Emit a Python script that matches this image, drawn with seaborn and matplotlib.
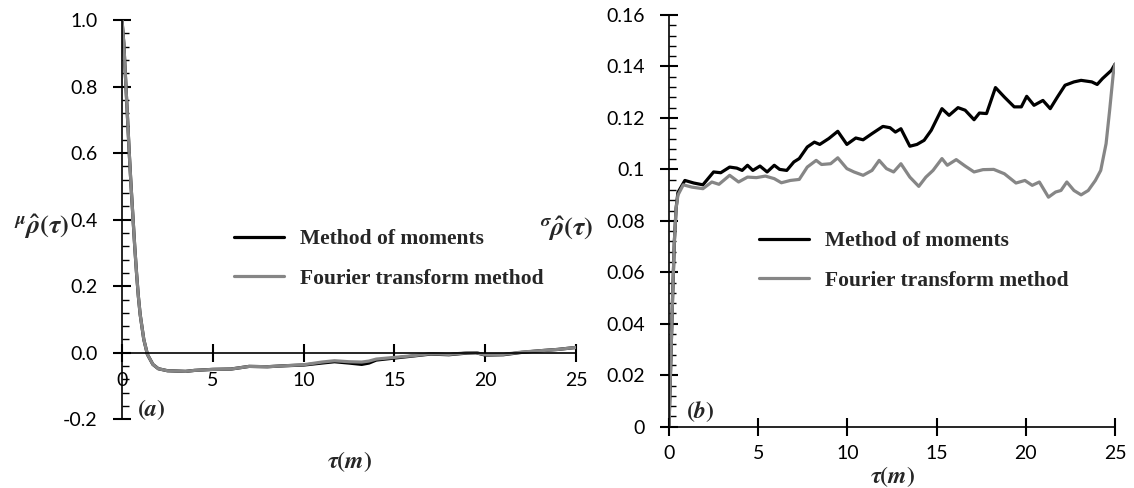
import matplotlib
matplotlib.use("Agg")
import matplotlib.pyplot as plt
from matplotlib.lines import Line2D
from matplotlib.ticker import FixedLocator, FixedFormatter, MultipleLocator
import pandas as pd
import seaborn as sns

# ---- (a) mean of the estimated autocorrelation ----
tau_a = [0, 0.1, 0.2, 0.3, 0.4, 0.5, 0.6, 0.7, 0.8, 0.9,
         1.0, 1.2, 1.4, 1.7, 2.0, 2.5, 3.0, 3.5, 4.0, 5.0,
         6.0, 6.5, 7.0, 8.0, 9.0, 10.0, 10.5, 11.0, 11.7, 12.5,
         13.2, 13.6, 14.0, 15.0, 16.0, 17.0, 18.0, 19.0, 19.5, 20.0,
         21.0, 22.0, 23.0, 24.0, 25.0]
mu_fourier = [1.0, 0.93, 0.82, 0.71, 0.60, 0.50, 0.41, 0.32, 0.24, 0.17,
              0.115, 0.04, -0.005, -0.035, -0.048, -0.054, -0.055, -0.056, -0.053, -0.050,
              -0.049, -0.045, -0.041, -0.042, -0.039, -0.036, -0.032, -0.028, -0.024, -0.027,
              -0.028, -0.025, -0.019, -0.014, -0.009, -0.003, -0.005, 0.0, 0.0, -0.006,
              -0.005, 0.002, 0.006, 0.010, 0.016]
mu_moments = [1.0, 0.93, 0.82, 0.71, 0.60, 0.50, 0.41, 0.32, 0.24, 0.17,
              0.115, 0.04, -0.005, -0.035, -0.048, -0.054, -0.055, -0.056, -0.053, -0.050,
              -0.049, -0.045, -0.041, -0.042, -0.039, -0.037, -0.034, -0.031, -0.027, -0.031,
              -0.035, -0.031, -0.022, -0.016, -0.010, -0.004, -0.006, -0.001, 0.0, -0.007,
              -0.006, 0.001, 0.006, 0.010, 0.016]

# ---- (b) standard deviation of the estimated autocorrelation ----
tau_b_moments = [0, 0.1, 0.2, 0.3, 0.4, 0.5, 0.89, 1.39, 1.9, 2.5,
                 2.9, 3.4, 3.8, 4.1, 4.4, 4.7, 5.1, 5.5, 5.9, 6.2,
                 6.6, 7.0, 7.3, 7.75, 8.15, 8.45, 8.96, 9.46, 9.97, 10.47,
                 10.88, 11.38, 11.99, 12.39, 12.69, 13.0, 13.5, 13.9, 14.3, 14.7,
                 15.3, 15.7, 16.2, 16.6, 17.1, 17.4, 17.8, 18.3, 18.8, 19.35,
                 19.75, 20.05, 20.46, 20.96, 21.37, 21.77, 22.2, 22.7, 23.1, 23.7,
                 24.0, 24.3, 24.8, 25.0]
sigma_moments = [0.0, 0.025, 0.05, 0.072, 0.085, 0.091, 0.0957, 0.0947, 0.094, 0.099,
                 0.0987, 0.1009, 0.1005, 0.0996, 0.1016, 0.0996, 0.1013, 0.0990, 0.1016, 0.1000,
                 0.0996, 0.1029, 0.1042, 0.1087, 0.1106, 0.1097, 0.1120, 0.1148, 0.1097, 0.1122,
                 0.1115, 0.1139, 0.1167, 0.1162, 0.1145, 0.1158, 0.1090, 0.1097, 0.1113, 0.1152,
                 0.1236, 0.1210, 0.1240, 0.1230, 0.1193, 0.1219, 0.1217, 0.1318, 0.1281, 0.1243,
                 0.1243, 0.1284, 0.1249, 0.1268, 0.1236, 0.1281, 0.1327, 0.1340, 0.1346, 0.1340,
                 0.1330, 0.1353, 0.1385, 0.1409]
tau_b_fourier = [0, 0.1, 0.2, 0.3, 0.4, 0.5, 0.8, 1.29, 1.9, 2.4,
                 2.8, 3.4, 3.9, 4.4, 4.9, 5.4, 5.9, 6.3, 6.8, 7.3,
                 7.75, 8.25, 8.55, 9.06, 9.46, 9.97, 10.37, 10.88, 11.38, 11.78,
                 12.19, 12.59, 13.0, 13.5, 14.0, 14.4, 14.8, 15.3, 15.6, 16.1,
                 16.6, 17.1, 17.6, 18.2, 18.8, 19.45, 19.95, 20.36, 20.76, 21.27,
                 21.67, 21.97, 22.3, 22.7, 23.1, 23.5, 23.9, 24.2, 24.5, 24.7,
                 24.9, 25.0]
sigma_fourier = [0.0, 0.025, 0.05, 0.072, 0.085, 0.090, 0.0940, 0.0931, 0.0925, 0.0951,
                 0.0942, 0.0977, 0.0951, 0.0970, 0.0968, 0.0974, 0.0964, 0.0948, 0.0957, 0.0961,
                 0.1009, 0.1035, 0.1019, 0.1022, 0.1045, 0.1003, 0.0990, 0.0977, 0.0996, 0.1035,
                 0.1003, 0.0990, 0.1022, 0.0970, 0.0934, 0.0970, 0.0996, 0.1042, 0.1016, 0.1038,
                 0.1013, 0.0990, 0.0999, 0.1000, 0.0983, 0.0947, 0.0957, 0.0938, 0.0951, 0.0892,
                 0.0912, 0.0918, 0.0951, 0.0918, 0.0901, 0.0918, 0.0957, 0.0996, 0.1100, 0.1230,
                 0.1370, 0.1409]

methods = ["Method of moments", "Fourier transform method"]
a_yticks = [-0.2, 0.0, 0.2, 0.4, 0.6, 0.8, 1.0]
a_ylabels = ["-0.2", "0.0", "0.2", "0.4", "0.6", "0.8", "1.0"]
b_yticks = [0, 0.02, 0.04, 0.06, 0.08, 0.10, 0.12, 0.14, 0.16]
b_ylabels = ["0", "0.02", "0.04", "0.06", "0.08", "0.1", "0.12", "0.14", "0.16"]
xticks = [0, 5, 10, 15, 20, 25]
xlabels = ["0", "5", "10", "15", "20", "25"]

sns.set_theme(style="ticks")
plt.rcParams["font.family"] = ["Lato", "DejaVu Sans"]
plt.rcParams["mathtext.fontset"] = "custom"
plt.rcParams["mathtext.it"] = "STIXGeneral:italic:bold"
plt.rcParams["mathtext.rm"] = "STIXGeneral:bold"
plt.rcParams["mathtext.bf"] = "STIXGeneral:italic:bold"

BLACK = "#000000"
GRAY = "#868686"
palette = {methods[0]: BLACK, methods[1]: GRAY}
LW = 2.3

W, H = 1134, 488
fig = plt.figure(figsize=(W / 100, H / 100), dpi=100)
fig.patch.set_facecolor("white")
ax_a = fig.add_axes([122 / W, 1 - 419.3 / H, 454 / W, 399.3 / H])
ax_b = fig.add_axes([669 / W, 1 - 426.7 / H, 446 / W, 411.7 / H])

df_a = pd.concat([
    pd.DataFrame({"tau": tau_a, "value": mu_moments, "method": methods[0]}),
    pd.DataFrame({"tau": tau_a, "value": mu_fourier, "method": methods[1]}),
])
df_b = pd.concat([
    pd.DataFrame({"tau": tau_b_moments, "value": sigma_moments, "method": methods[0]}),
    pd.DataFrame({"tau": tau_b_fourier, "value": sigma_fourier, "method": methods[1]}),
])

for ax, df in ((ax_a, df_a), (ax_b, df_b)):
    sns.lineplot(data=df, x="tau", y="value", hue="method", hue_order=methods,
                 palette=palette, estimator=None, sort=False, linewidth=LW,
                 legend=False, ax=ax)
    ax.set_facecolor("white")
    ax.set_xlabel("")
    ax.set_ylabel("")
    ax.set_xlim(0, 25)
    for side in ("top", "right"):
        ax.spines[side].set_visible(False)
    for side in ("left", "bottom"):
        ax.spines[side].set_color("black")
        ax.spines[side].set_linewidth(1.2)
    ax.set_xticks(xticks)
    ax.set_xticklabels(xlabels)
    ax.tick_params(axis="x", which="major", bottom=True, top=False,
                   direction="inout", length=13, width=1.5,
                   color="black", labelsize=14, labelcolor="black")
    ax.tick_params(axis="y", which="major", left=True, right=False,
                   direction="inout", length=13, width=1.5,
                   color="black", labelsize=14, labelcolor="black", pad=11)
    ax.tick_params(axis="y", which="minor", left=True, right=False,
                   direction="in", length=5, width=1.0, color="black")
    ax.grid(False)

# panel (a): horizontal axis runs through zero
ax_a.set_ylim(-0.2, 1.0)
ax_a.spines["bottom"].set_position(("data", 0))
ax_a.yaxis.set_major_locator(FixedLocator(a_yticks))
ax_a.yaxis.set_major_formatter(FixedFormatter(a_ylabels))
ax_a.yaxis.set_minor_locator(MultipleLocator(0.04))
ax_a.tick_params(axis="x", which="major", pad=7.5)

# panel (b)
ax_b.set_ylim(0, 0.16)
ax_b.yaxis.set_major_locator(FixedLocator(b_yticks))
ax_b.yaxis.set_major_formatter(FixedFormatter(b_ylabels))
ax_b.yaxis.set_minor_locator(MultipleLocator(0.004))
ax_b.tick_params(axis="x", which="major", pad=6.5)

# legends
handles = [Line2D([], [], color=BLACK, lw=LW), Line2D([], [], color=GRAY, lw=LW)]
leg_font = {"family": "Liberation Serif", "weight": "bold", "size": 15.5}
for ax, (lx, ly) in ((ax_a, (234, 229)), (ax_b, (759, 231))):
    ax.legend(handles, methods, loc="upper left",
              bbox_to_anchor=(lx / W, 1 - ly / H), bbox_transform=fig.transFigure,
              frameon=False, prop=leg_font, handlelength=2.3, handletextpad=0.75,
              labelspacing=0.9, borderpad=0, borderaxespad=0)

# axis titles
fig.text(14 / W, 1 - 234 / H, r"${}^{\mu}\hat{\rho}(\tau)$", fontsize=19,
         ha="left", va="baseline")
fig.text(540 / W, 1 - 236 / H, r"${}^{\sigma}\hat{\rho}(\tau)$", fontsize=19,
         ha="left", va="baseline")
fig.text(349 / W, 1 - 462 / H, r"$\tau(m)$", fontsize=17, ha="center", va="center")
fig.text(892 / W, 1 - 477 / H, r"$\tau(m)$", fontsize=17, ha="center", va="center")
fig.text(137 / W, 1 - 410 / H, r"$(a)$", fontsize=17, ha="left", va="center")
fig.text(686 / W, 1 - 412 / H, r"$(b)$", fontsize=17, ha="left", va="center")

fig.savefig("out.png", dpi=100, facecolor="white")
